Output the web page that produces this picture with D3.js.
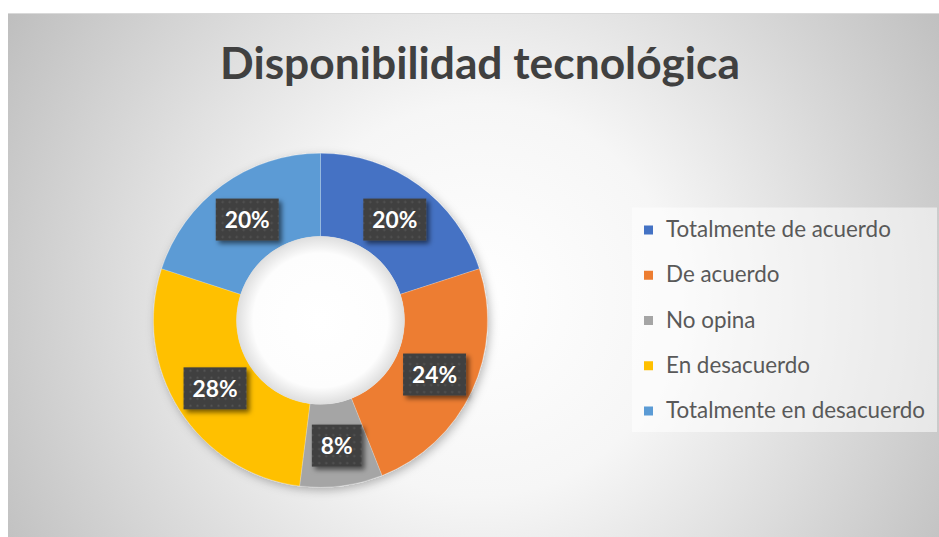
<!DOCTYPE html>
<html>
<head>
<meta charset="utf-8">
<script src="https://cdn.jsdelivr.net/npm/d3@7"></script>
<style>
  html, body { margin: 0; padding: 0; background: #ffffff; }
  svg { display: block; }
</style>
</head>
<body>
<svg id="chart" width="939" height="537"></svg>
<script>
const title = "Disponibilidad tecnológica";
const categories = ["Totalmente de acuerdo", "De acuerdo", "No opina", "En desacuerdo", "Totalmente en desacuerdo"];
const values = [20, 24, 8, 28, 20];
const labels = ["20%", "24%", "8%", "28%", "20%"];
const colors = ["#4472C4", "#ED7D31", "#A5A5A5", "#FFC000", "#5B9BD5"];

const FONT = "Lato, 'Open Sans', 'DejaVu Sans', sans-serif";
const svg = d3.select("#chart");
const defs = svg.append("defs");

// background radial gradient
const bg = defs.append("radialGradient").attr("id", "bgGrad")
  .attr("gradientUnits", "userSpaceOnUse")
  .attr("cx", 480).attr("cy", 300).attr("r", 560);
bg.append("stop").attr("offset", "0%").attr("stop-color", "#ffffff");
bg.append("stop").attr("offset", "35%").attr("stop-color", "#f6f6f6");
bg.append("stop").attr("offset", "100%").attr("stop-color", "#bdbdbd");

// hole inner shadow
const hole = defs.append("radialGradient").attr("id", "holeGrad");
hole.append("stop").attr("offset", "0%").attr("stop-color", "#ffffff");
hole.append("stop").attr("offset", "80%").attr("stop-color", "#fdfdfd");
hole.append("stop").attr("offset", "100%").attr("stop-color", "#dedede");

// label pattern
const pat = defs.append("pattern").attr("id", "dots")
  .attr("patternUnits", "userSpaceOnUse").attr("width", 7).attr("height", 7);
pat.append("rect").attr("width", 7).attr("height", 7).attr("fill", "#404040");
pat.append("circle").attr("cx", 3.5).attr("cy", 3.5).attr("r", 1.1).attr("fill", "#575757");

// shadows
const f1 = defs.append("filter").attr("id", "ringShadow")
  .attr("x", "-20%").attr("y", "-20%").attr("width", "140%").attr("height", "140%");
f1.append("feDropShadow").attr("dx", 2).attr("dy", 3).attr("stdDeviation", 5)
  .attr("flood-color", "#000").attr("flood-opacity", 0.28);
const f2 = defs.append("filter").attr("id", "boxShadow")
  .attr("x", "-30%").attr("y", "-30%").attr("width", "170%").attr("height", "170%");
f2.append("feDropShadow").attr("dx", 3).attr("dy", 3).attr("stdDeviation", 2.5)
  .attr("flood-color", "#000").attr("flood-opacity", 0.55);

// chart area
svg.append("rect").attr("x", 8).attr("y", 13).attr("width", 931).attr("height", 524)
  .attr("fill", "url(#bgGrad)");
svg.append("line").attr("x1", 8).attr("x2", 939).attr("y1", 13.5).attr("y2", 13.5)
  .attr("stroke", "#d9d9d9").attr("stroke-width", 1);

// title
const t = svg.append("text").attr("x", 480).attr("y", 78.5)
  .attr("text-anchor", "middle")
  .attr("font-family", FONT).attr("font-weight", "bold")
  .attr("font-size", 44).attr("fill", "#404040").text(title);
const tw = t.node().getComputedTextLength();
t.attr("font-size", 44 * 520 / tw);

// donut
const cx = 320.5, cy = 320.3, R = 167, r = 84;
const pie = d3.pie().sort(null).value(d => d)(values);
const arc = d3.arc().innerRadius(r).outerRadius(R);
const g = svg.append("g").attr("transform", `translate(${cx},${cy})`);
const ring = g.append("g").attr("filter", "url(#ringShadow)");
ring.selectAll("path").data(pie).join("path")
  .attr("d", arc)
  .attr("fill", (d, i) => colors[i])
  .attr("stroke", "#ffffff").attr("stroke-opacity", 0.35).attr("stroke-width", 0.6);
g.append("circle").attr("r", r).attr("fill", "url(#holeGrad)");

// labels
const mid = d3.arc().innerRadius((r + R) / 2).outerRadius((r + R) / 2);
const lg = g.selectAll("g.lab").data(pie).join("g").attr("class", "lab")
  .attr("transform", d => { const c = mid.centroid(d); return `translate(${c[0] + 0.5},${c[1] + 0.8})`; });
// size label font so "20%" is ~45px wide
const probe = svg.append("text").attr("font-family", FONT).attr("font-weight", "bold")
  .attr("font-size", 24).text(labels[0]);
const labelSize = 24 * 45 / probe.node().getComputedTextLength();
probe.remove();
lg.each(function(d, i) {
  const s = d3.select(this);
  const rect = s.append("rect");
  const txt = s.append("text").attr("text-anchor", "middle").attr("y", labelSize * 0.36)
    .attr("font-family", FONT).attr("font-weight", "bold").attr("font-size", labelSize)
    .attr("fill", "#ffffff").text(labels[i]);
  const w = txt.node().getComputedTextLength() + 18;
  rect.attr("x", -w / 2).attr("y", -21).attr("width", w).attr("height", 42)
    .attr("fill", "url(#dots)").attr("filter", "url(#boxShadow)");
});

// legend
svg.append("rect").attr("x", 632).attr("y", 207.5).attr("width", 305).attr("height", 224.5)
  .attr("fill", "#ffffff").attr("fill-opacity", 0.55);
const ly = d3.scalePoint().domain(categories).range([230, 411]);
const leg = svg.append("g").selectAll("g").data(categories).join("g")
  .attr("transform", d => `translate(644,${ly(d)})`);
leg.append("rect").attr("x", 0).attr("y", -4.5).attr("width", 9).attr("height", 9)
  .attr("fill", (d, i) => colors[i]);
const ltexts = leg.append("text").attr("x", 22).attr("y", 7)
  .attr("font-family", FONT).attr("font-size", 20).attr("fill", "#595959")
  .text(d => d);
const lw = ltexts.nodes()[0].getComputedTextLength();
ltexts.attr("font-size", 20 * 225 / lw);
</script>
</body>
</html>
